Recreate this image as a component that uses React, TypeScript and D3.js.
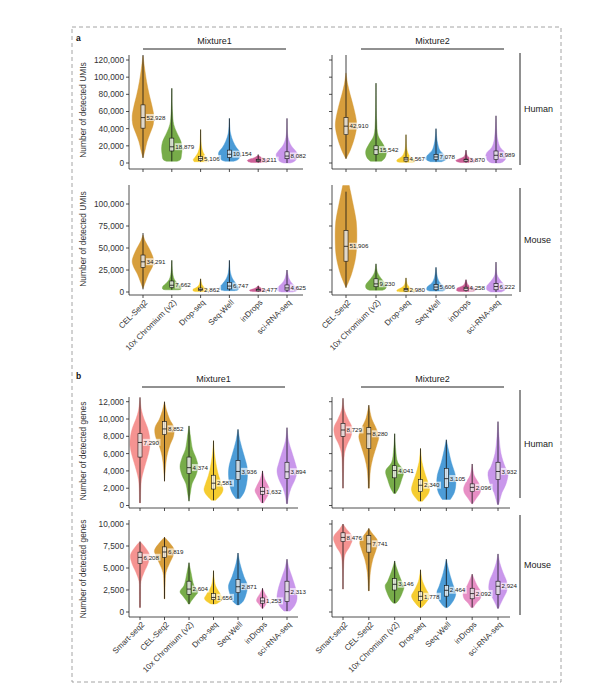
import React from 'react';
import * as d3 from 'd3';

type Knot = [number, number];
type Pair = [number, number];

// categories
const umiMethods = ['CEL-Seq2', '10x Chromium (v2)', 'Drop-seq', 'Seq-Well', 'inDrops', 'sci-RNA-seq'];
const geneMethods = ['Smart-seq2', 'CEL-Seq2', '10x Chromium (v2)', 'Drop-seq', 'Seq-Well', 'inDrops', 'sci-RNA-seq'];
const umiColors = ['#D4962B', '#6BA53A', '#F4C81E', '#3D94D4', '#C9538E', '#C48EE9'];
const geneColors = ['#F48A88', '#D4962B', '#6BA53A', '#F4C81E', '#3D94D4', '#E585C0', '#C48EE9'];

// tick labels
const umiHumanTicks = [0, 20000, 40000, 60000, 80000, 100000, 120000];
const umiMouseTicks = [0, 25000, 50000, 75000, 100000];
const geneHumanTicks = [0, 2000, 4000, 6000, 8000, 10000, 12000];
const geneMouseTicks = [0, 2500, 5000, 7500, 10000];

// ---- a: UMIs, Human, Mixture1
const umiH1Median = [52928, 18879, 5106, 10154, 3211, 8082];
const umiH1Box: Pair[] = [[40600, 67700], [14000, 29000], [2800, 7500], [6500, 15000], [1800, 4200], [5000, 13000]];
const umiH1Whisker: Pair[] = [[6000, 127000], [2000, 87000], [1500, 39000], [2000, 52000], [500, 10000], [0, 52000]];
const umiH1Shape: Knot[][] = [
  [[125000, 0], [112000, 1.3], [95000, 3.3], [80000, 5.7], [65000, 8.6], [55000, 10], [45000, 9.5], [35000, 6.7], [25000, 3.8], [15000, 1.9], [6000, 0]],
  [[87000, 0], [60000, 0.6], [45000, 1.8], [35000, 4.8], [25000, 8.5], [17000, 9.5], [10000, 9], [4000, 8], [2000, 5]],
  [[39000, 0], [20000, 0.8], [12000, 2.5], [7000, 5], [4000, 6.8], [2500, 6.5], [1500, 6]],
  [[52000, 0], [35000, 1], [25000, 3.5], [18000, 6.5], [12000, 10], [7000, 9.5], [4000, 8], [2000, 4]],
  [[9000, 0], [6500, 3], [4500, 8], [3000, 10], [1500, 9], [500, 5]],
  [[52000, 0], [30000, 1], [20000, 4], [14000, 8], [10000, 10], [6000, 9.5], [2000, 7], [0, 3]],
];

// ---- a: UMIs, Human, Mixture2
const umiH2Median = [42910, 15542, 4567, 7078, 3870, 8989];
const umiH2Box: Pair[] = [[33000, 53000], [10000, 20000], [2200, 6500], [4000, 10000], [1800, 4500], [4000, 14000]];
const umiH2Whisker: Pair[] = [[5000, 127000], [2000, 93000], [800, 33000], [1500, 40000], [500, 15000], [0, 55000]];
const umiH2Shape: Knot[][] = [
  [[105000, 0], [92000, 1.5], [80000, 3.8], [65000, 7], [50000, 9.5], [42000, 9.8], [30000, 8], [15000, 4], [5000, 0]],
  [[93000, 0], [50000, 0.6], [32000, 2], [22000, 6.5], [14000, 9.5], [8000, 9], [4000, 7], [2000, 5]],
  [[33000, 0], [15000, 1], [8000, 3.5], [4000, 8], [2000, 8.5], [800, 6]],
  [[40000, 0], [25000, 1.2], [15000, 3.5], [9000, 8], [5000, 10], [3000, 8], [1500, 5]],
  [[15000, 0], [8000, 1.5], [5000, 6], [3000, 9.5], [1500, 8], [500, 5]],
  [[55000, 0], [28000, 1.5], [18000, 4], [12000, 8.5], [8000, 9.5], [4000, 8.5], [1000, 6], [0, 3]],
];

// ---- a: UMIs, Mouse, Mixture1
const umiM1Median = [34291, 7662, 2862, 6747, 2477, 4625];
const umiM1Box: Pair[] = [[28000, 42000], [5000, 12500], [1500, 4500], [3500, 11000], [1200, 3200], [2200, 8000]];
const umiM1Whisker: Pair[] = [[3000, 67000], [2500, 36000], [500, 15000], [1500, 36000], [500, 7000], [0, 25000]];
const umiM1Shape: Knot[][] = [
  [[65000, 0], [58000, 2], [50000, 5.5], [42000, 8.5], [35000, 10], [28000, 8.5], [20000, 5], [12000, 2.5], [4000, 0]],
  [[36000, 0], [20000, 1], [14000, 2.5], [9000, 6], [6000, 8.5], [3500, 8.5], [2500, 6]],
  [[15000, 0], [8000, 1.5], [5000, 4], [3000, 7], [1500, 7], [500, 5]],
  [[36000, 0], [22000, 1], [15000, 3], [9000, 6.5], [5000, 9], [2500, 8], [1500, 5]],
  [[7000, 0], [4500, 2.5], [3000, 6], [2000, 8], [1000, 7.5], [500, 5]],
  [[25000, 0], [15000, 2], [10000, 4.5], [6000, 8], [3500, 10], [1500, 9], [0, 5]],
];

// ---- a: UMIs, Mouse, Mixture2
const umiM2Median = [51906, 9230, 2980, 5606, 4258, 6222];
const umiM2Box: Pair[] = [[35000, 70000], [6000, 15000], [1000, 4000], [2500, 8500], [1500, 5500], [2500, 9500]];
const umiM2Whisker: Pair[] = [[5000, 114000], [2000, 32000], [300, 16000], [1000, 28000], [500, 14000], [0, 34000]];
const umiM2Shape: Knot[][] = [
  [[121000, 3], [115000, 4], [100000, 6.5], [80000, 9.5], [60000, 10], [40000, 9], [20000, 5], [5000, 0]],
  [[32000, 0], [22000, 1.5], [15000, 5], [8000, 9.5], [4000, 9], [2000, 6]],
  [[16000, 0], [8000, 1.5], [5000, 4], [2500, 8], [1000, 8.5], [300, 6]],
  [[28000, 0], [16000, 1.5], [10000, 4], [6000, 8], [3000, 9], [1000, 6]],
  [[14000, 0], [8000, 2], [6000, 5], [4000, 8.5], [2000, 9], [500, 6]],
  [[34000, 0], [20000, 1], [15000, 3], [9000, 7], [6000, 9], [3000, 9], [0, 5]],
];

// ---- b: genes, Human, Mixture1
const geneH1Median = [7290, 8852, 4374, 2581, 3936, 1632, 3894];
const geneH1Box: Pair[] = [[5600, 8300], [8200, 9700], [3700, 5600], [1900, 3500], [3000, 5200], [1300, 2100], [3100, 5000]];
const geneH1Whisker: Pair[] = [[300, 12500], [2800, 12000], [500, 9200], [600, 7500], [800, 8800], [300, 4000], [200, 9000]];
const geneH1Shape: Knot[][] = [
  [[12500, 0], [11000, 1.5], [10000, 4], [9000, 7.5], [8000, 9.5], [7000, 10], [6000, 8.5], [5000, 6], [4000, 3.5], [3000, 1.5], [2000, 0.8], [300, 0.5]],
  [[12000, 0], [11000, 2], [10000, 5], [9000, 9.5], [8000, 9], [7000, 5.5], [6000, 3], [5000, 1.5], [2800, 0]],
  [[9200, 0], [8000, 1.5], [6500, 3.5], [5500, 7], [4500, 9], [3500, 7], [2500, 3], [1500, 1.5], [500, 0]],
  [[7500, 0], [6000, 1], [4500, 3], [3500, 5], [2500, 8], [1800, 9.5], [1200, 7], [600, 2]],
  [[8800, 0], [7500, 2], [6000, 5.5], [4500, 9], [3500, 9.5], [2500, 8.5], [1500, 6], [800, 2]],
  [[4000, 0], [3000, 2.5], [2200, 6], [1700, 7.5], [1100, 5], [300, 1]],
  [[9000, 0], [7500, 1.5], [6500, 4], [5000, 8], [4000, 10], [3000, 8], [2000, 4], [1000, 1.5], [200, 0.5]],
];

// ---- b: genes, Human, Mixture2
const geneH2Median = [8729, 8280, 4041, 2340, 3105, 2096, 3932];
const geneH2Box: Pair[] = [[8000, 9500], [6600, 9000], [3200, 4600], [1600, 3000], [2100, 4300], [1600, 2500], [3000, 5000]];
const geneH2Whisker: Pair[] = [[2000, 12400], [2000, 11600], [1400, 8300], [500, 6600], [700, 7600], [200, 4800], [100, 9700]];
const geneH2Shape: Knot[][] = [
  [[12400, 0], [11000, 1.5], [10000, 5], [9000, 9], [8000, 8], [7000, 4], [6000, 1.5], [4000, 0.6], [2000, 0.3]],
  [[11600, 0], [10000, 3], [9000, 7], [8000, 10], [7000, 8], [5500, 4], [4000, 1.5], [2000, 0.5]],
  [[8300, 0], [6500, 1], [5000, 3], [4000, 9], [3000, 7], [2000, 4], [1400, 1]],
  [[6600, 0], [5000, 1.5], [3500, 5], [2500, 8], [1800, 9], [1200, 7], [500, 2]],
  [[7600, 0], [6500, 2], [5000, 5], [3500, 9], [2500, 9.5], [1500, 8], [700, 4]],
  [[4800, 0], [3500, 2], [2500, 7], [2000, 8.5], [1500, 8], [800, 4], [200, 0.5]],
  [[9700, 0], [8000, 1], [6000, 3], [4500, 7], [3800, 10], [2500, 8], [1500, 4], [500, 1.5], [100, 0.5]],
];

// ---- b: genes, Mouse, Mixture1
const geneM1Median = [6208, 6819, 2604, 1656, 2871, 1253, 2313];
const geneM1Box: Pair[] = [[5500, 6800], [6200, 7400], [2000, 3500], [1400, 2100], [2200, 3700], [1000, 1600], [1200, 3500]];
const geneM1Whisker: Pair[] = [[500, 8000], [1500, 8500], [900, 5600], [900, 4700], [800, 6700], [400, 2700], [100, 6000]];
const geneM1Shape: Knot[][] = [
  [[8000, 0], [7500, 4], [6500, 9.5], [5500, 8], [4500, 4], [3500, 1], [2000, 0.6], [500, 0.5]],
  [[8500, 0], [8000, 4], [7000, 10], [6500, 9], [5500, 5], [4500, 1.5], [3000, 0.6], [1500, 0.4]],
  [[5600, 0], [4500, 2], [3000, 5], [2300, 9], [1800, 6], [1200, 2], [900, 0.5]],
  [[4700, 0], [3000, 2], [2000, 7], [1500, 9], [1000, 4], [900, 1]],
  [[6700, 0], [5500, 2], [4000, 6], [3000, 9.5], [2000, 8], [1200, 5], [800, 1]],
  [[2700, 0], [2200, 2], [1300, 6], [800, 3], [400, 0.5]],
  [[6000, 0], [5000, 2], [4000, 5], [2500, 9], [1500, 10], [800, 8], [100, 3]],
];

// ---- b: genes, Mouse, Mixture2
const geneM2Median = [8476, 7741, 3146, 1778, 2464, 2092, 2924];
const geneM2Box: Pair[] = [[8000, 9000], [6800, 8700], [2500, 3800], [1300, 2300], [1800, 3000], [1500, 2700], [2000, 3500]];
const geneM2Whisker: Pair[] = [[2600, 10000], [2400, 9500], [1000, 5800], [500, 4800], [500, 6000], [500, 4300], [400, 6600]];
const geneM2Shape: Knot[][] = [
  [[10000, 0], [9500, 3], [8500, 9.5], [7500, 7], [6500, 2], [5000, 0.6], [2600, 0.3]],
  [[9500, 0], [9000, 3], [8000, 9], [7000, 7], [6000, 4], [4500, 1.5], [2400, 0.4]],
  [[5800, 0], [5000, 2], [3500, 7], [3000, 9.5], [2000, 7], [1200, 3], [1000, 1]],
  [[4800, 0], [3500, 2], [2500, 6], [1800, 9], [1000, 5], [500, 1]],
  [[6000, 0], [4500, 3], [3000, 7], [2200, 9.5], [1500, 8], [800, 4], [500, 1]],
  [[4300, 0], [3000, 5], [2200, 9], [1500, 8], [1000, 4], [500, 1]],
  [[6600, 0], [5500, 2], [4500, 5], [3500, 8.5], [2500, 9], [1500, 5], [800, 2], [400, 0.5]],
];

const FONT = '"Liberation Sans", Arial, Helvetica, sans-serif';
const fmt = d3.format(',');

interface PanelProps {
  id: string;
  methods: string[];
  colors: string[];
  median: number[];
  box: Pair[];
  whisker: Pair[];
  shape: Knot[][];
  ticks: number[];
  yDomain: Pair;
  yRange: Pair;
  frameTop: number;
  frameBottom: number;
  axisX: number;
  axisEnd: number;
  catRange: Pair;
  halfMax: number;
  tickLabels: boolean;
  xLabels: boolean;
}

function Panel(p: PanelProps) {
  const y = d3.scaleLinear().domain(p.yDomain).range(p.yRange);
  const x = d3.scalePoint<string>().domain(p.methods).range(p.catRange);
  const w = d3.scaleLinear().domain([0, 10]).range([0, p.halfMax]);
  const clipId = `clip-${p.id}`;

  return (
    <g>
      <defs>
        <clipPath id={clipId}>
          <rect x={p.axisX} y={p.frameTop} width={p.axisEnd - p.axisX} height={p.frameBottom - p.frameTop} />
        </clipPath>
      </defs>
      <g clipPath={`url(#${clipId})`}>
        {p.methods.map((m, i) => {
          const cx = x(m) as number;
          const area = d3.area<Knot>()
            .y(d => y(d[0]))
            .x0(d => cx - w(d[1]))
            .x1(d => cx + w(d[1]))
            .curve(d3.curveCatmullRom.alpha(0.5));
          const [q1, q3] = p.box[i];
          const [lo, hi] = p.whisker[i];
          return (
            <g key={m}>
              <path d={area(p.shape[i]) || ''} fill={p.colors[i]} fillOpacity={0.92}
                stroke={p.colors[i]} strokeWidth={0.4} />
              <line x1={cx} x2={cx} y1={y(lo)} y2={y(hi)} stroke="#111" strokeWidth={0.8} />
              <rect x={cx - 2} width={4} y={y(q3)} height={Math.max(1, y(q1) - y(q3))}
                fill="#fff" fillOpacity={0.75} stroke="#111" strokeWidth={0.6} />
              <line x1={cx - 2} x2={cx + 2} y1={y(p.median[i])} y2={y(p.median[i])} stroke="#111" strokeWidth={0.8} />
            </g>
          );
        })}
      </g>
      {/* median labels */}
      {p.methods.map((m, i) => {
        const cx = x(m) as number;
        const label = fmt(p.median[i]);
        const ly = y(p.median[i]);
        const lw = label.length * 3.3 + 1;
        return (
          <g key={`lab-${m}`}>
            <rect x={cx + 3} y={ly - 3.6} width={lw} height={7} fill="#fff" fillOpacity={0.65} />
            <text x={cx + 3.5} y={ly} dy="0.35em" fontSize={6.2} fill="#222" fontFamily={FONT}>{label}</text>
          </g>
        );
      })}
      {/* y axis */}
      <line x1={p.axisX} x2={p.axisX} y1={p.frameTop} y2={p.frameBottom} stroke="#222" strokeWidth={0.8} />
      {p.ticks.map(t => (
        <g key={`yt-${t}`}>
          <line x1={p.axisX - 3} x2={p.axisX} y1={y(t)} y2={y(t)} stroke="#222" strokeWidth={0.8} />
          {p.tickLabels && (
            <text x={p.axisX - 5} y={y(t)} dy="0.35em" textAnchor="end" fontSize={8.3} fill="#333" fontFamily={FONT}>
              {fmt(t)}
            </text>
          )}
        </g>
      ))}
      {/* x axis */}
      <line x1={p.axisX} x2={p.axisEnd} y1={p.frameBottom} y2={p.frameBottom} stroke="#222" strokeWidth={0.8} />
      {p.methods.map(m => {
        const cx = x(m) as number;
        return (
          <g key={`xt-${m}`}>
            <line x1={cx} x2={cx} y1={p.frameBottom} y2={p.frameBottom + 3} stroke="#222" strokeWidth={0.8} />
            {p.xLabels && (
              <text transform={`translate(${cx + 3},${p.frameBottom + 6}) rotate(-45)`} dy="0.35em"
                textAnchor="end" fontSize={8} fill="#333" fontFamily={FONT}>{m}</text>
            )}
          </g>
        );
      })}
    </g>
  );
}

function Strip({ x, y1, y2, label }: { x: number; y1: number; y2: number; label: string }) {
  return (
    <g>
      <line x1={x} x2={x} y1={y1} y2={y2} stroke="#222" strokeWidth={1} />
      <text x={x + 4} y={(y1 + y2) / 2} dy="0.35em" fontSize={9} fill="#222" fontFamily={FONT}>{label}</text>
    </g>
  );
}

function Header({ x1, x2, y, label }: { x1: number; x2: number; y: number; label: string }) {
  return (
    <g>
      <text x={(x1 + x2) / 2} y={y - 5} textAnchor="middle" fontSize={9} fill="#222" fontFamily={FONT}>{label}</text>
      <line x1={x1} x2={x2} y1={y} y2={y} stroke="#222" strokeWidth={1} />
    </g>
  );
}

function YTitle({ x, y, label }: { x: number; y: number; label: string }) {
  return (
    <text transform={`translate(${x},${y}) rotate(-90)`} textAnchor="middle" dy="0.35em"
      fontSize={8.4} fill="#333" fontFamily={FONT}>{label}</text>
  );
}

export default function App() {
  const left = { axisX: 129 };
  const right = { axisX: 332 };
  return (
    <svg width={600} height={696} viewBox="0 0 600 696"
      style={{ position: 'absolute', left: 0, top: 0, background: '#fff' }}>
      <rect x={72} y={27} width={489} height={655} fill="none" stroke="#9a9a9a" strokeWidth={0.9} strokeDasharray="4 3" />

      {/* panel a */}
      <text x={76} y={41} fontSize={8.5} fontWeight="bold" fill="#111" fontFamily={FONT}>a</text>
      <Header x1={143} x2={286} y={49} label="Mixture1" />
      <Header x1={361} x2={504} y={49} label="Mixture2" />
      <YTitle x={83} y={110} label="Number of detected UMIs" />
      <YTitle x={83} y={239} label="Number of detected UMIs" />
      <Panel id="aH1" methods={umiMethods} colors={umiColors} median={umiH1Median} box={umiH1Box}
        whisker={umiH1Whisker} shape={umiH1Shape} ticks={umiHumanTicks} yDomain={[0, 120000]} yRange={[163, 60]}
        frameTop={55} frameBottom={169} axisX={left.axisX} axisEnd={303} catRange={[143, 287]} halfMax={10.8}
        tickLabels xLabels={false} />
      <Panel id="aH2" methods={umiMethods} colors={umiColors} median={umiH2Median} box={umiH2Box}
        whisker={umiH2Whisker} shape={umiH2Shape} ticks={umiHumanTicks} yDomain={[0, 120000]} yRange={[163, 60]}
        frameTop={55} frameBottom={169} axisX={right.axisX} axisEnd={512} catRange={[346, 496]} halfMax={10.8}
        tickLabels={false} xLabels={false} />
      <Panel id="aM1" methods={umiMethods} colors={umiColors} median={umiM1Median} box={umiM1Box}
        whisker={umiM1Whisker} shape={umiM1Shape} ticks={umiMouseTicks} yDomain={[0, 100000]} yRange={[292, 204]}
        frameTop={185} frameBottom={295} axisX={left.axisX} axisEnd={303} catRange={[143, 287]} halfMax={10.8}
        tickLabels xLabels />
      <Panel id="aM2" methods={umiMethods} colors={umiColors} median={umiM2Median} box={umiM2Box}
        whisker={umiM2Whisker} shape={umiM2Shape} ticks={umiMouseTicks} yDomain={[0, 100000]} yRange={[292, 204]}
        frameTop={185} frameBottom={295} axisX={right.axisX} axisEnd={512} catRange={[346, 496]} halfMax={10.8}
        tickLabels={false} xLabels />
      <Strip x={520} y1={53} y2={165} label="Human" />
      <Strip x={520} y1={188} y2={292} label="Mouse" />

      {/* panel b */}
      <text x={76} y={379} fontSize={8.5} fontWeight="bold" fill="#111" fontFamily={FONT}>b</text>
      <Header x1={142} x2={285} y={387} label="Mixture1" />
      <Header x1={361} x2={504} y={387} label="Mixture2" />
      <YTitle x={83} y={451} label="Number of detected genes" />
      <YTitle x={83} y={569} label="Number of detected genes" />
      <Panel id="bH1" methods={geneMethods} colors={geneColors} median={geneH1Median} box={geneH1Box}
        whisker={geneH1Whisker} shape={geneH1Shape} ticks={geneHumanTicks} yDomain={[0, 12000]} yRange={[505.5, 401.7]}
        frameTop={397} frameBottom={508} axisX={left.axisX} axisEnd={298} catRange={[140, 287]} halfMax={10}
        tickLabels xLabels={false} />
      <Panel id="bH2" methods={geneMethods} colors={geneColors} median={geneH2Median} box={geneH2Box}
        whisker={geneH2Whisker} shape={geneH2Shape} ticks={geneHumanTicks} yDomain={[0, 12000]} yRange={[505.5, 401.7]}
        frameTop={397} frameBottom={508} axisX={right.axisX} axisEnd={510} catRange={[343, 498]} halfMax={10}
        tickLabels={false} xLabels={false} />
      <Panel id="bM1" methods={geneMethods} colors={geneColors} median={geneM1Median} box={geneM1Box}
        whisker={geneM1Whisker} shape={geneM1Shape} ticks={geneMouseTicks} yDomain={[0, 10000]} yRange={[612, 524]}
        frameTop={520} frameBottom={617} axisX={left.axisX} axisEnd={298} catRange={[140, 287]} halfMax={10}
        tickLabels xLabels />
      <Panel id="bM2" methods={geneMethods} colors={geneColors} median={geneM2Median} box={geneM2Box}
        whisker={geneM2Whisker} shape={geneM2Shape} ticks={geneMouseTicks} yDomain={[0, 10000]} yRange={[612, 524]}
        frameTop={520} frameBottom={617} axisX={right.axisX} axisEnd={510} catRange={[343, 498]} halfMax={10}
        tickLabels={false} xLabels />
      <Strip x={520} y1={390} y2={498} label="Human" />
      <Strip x={520} y1={515} y2={615} label="Mouse" />
    </svg>
  );
}
